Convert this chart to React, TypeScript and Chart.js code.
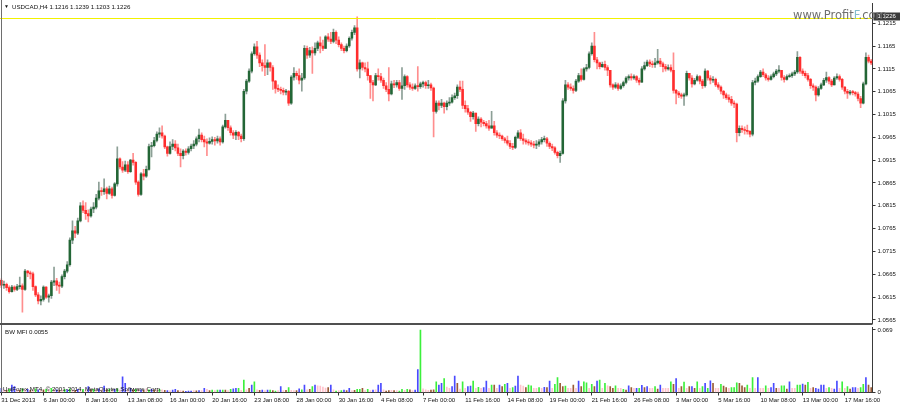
import React, { useEffect, useRef } from 'react';
import { Chart, registerables } from 'chart.js';

Chart.register(...registerables);

// ---------------- data ----------------
const headerText = 'USDCAD,H4  1.1216 1.1239 1.1203 1.1226';
const indicatorTitle = 'BW MFI 0.0055';
const copyrightText = 'UniForex MT4, \u00A9 2001-2014, MetaQuotes Software Corp.';
const watermarkParts = ['www.Profit', 'F', '.com'];

const bidPrice = 1.1226;
const firstOpen = 1.0652;

const closes = [
  1.0641, 1.0643, 1.0636, 1.0627, 1.0637, 1.0632, 1.0638, 1.0640, 1.0632, 1.0672, 1.0668, 1.0666, 1.0638, 1.0620, 1.0607, 1.0610,
  1.0637, 1.0615, 1.0618, 1.0648, 1.0651, 1.0641, 1.0639, 1.0660, 1.0672, 1.0686, 1.0740, 1.0760, 1.0755, 1.0782, 1.0815, 1.0805,
  1.0798, 1.0793, 1.0808, 1.0812, 1.0832, 1.0848, 1.0846, 1.0852, 1.0842, 1.0852, 1.0838, 1.0863, 1.0918, 1.0900, 1.0893, 1.0905,
  1.0890, 1.0915, 1.0910, 1.0867, 1.0840, 1.0885, 1.0880, 1.0895, 1.0945, 1.0947, 1.0958, 1.0972, 1.0975, 1.0968, 1.0944, 1.0930,
  1.0945, 1.0950, 1.0942, 1.0930, 1.0925, 1.0935, 1.0932, 1.0940, 1.0946, 1.0950, 1.0962, 1.0970, 1.0960, 1.0955, 1.0952, 1.0956,
  1.0960, 1.0957, 1.0962, 1.0955, 1.0988, 1.1002, 1.0986, 1.0975, 1.0970, 1.0976, 1.0968, 1.0962, 1.1066, 1.1088, 1.1110, 1.1148,
  1.1163, 1.1145, 1.1128, 1.1122, 1.1118, 1.1128, 1.1118, 1.1088, 1.1072, 1.1070, 1.1068, 1.1064, 1.1066, 1.1040, 1.1097, 1.1105,
  1.1100, 1.1090, 1.1095, 1.1160, 1.1145, 1.1155, 1.1150, 1.1160, 1.1172, 1.1165, 1.1160, 1.1185, 1.1180, 1.1175, 1.1195, 1.1178,
  1.1168, 1.1160, 1.1155, 1.1165, 1.1182, 1.1195, 1.1205, 1.1115, 1.1128, 1.1118, 1.1115, 1.1100, 1.1085, 1.1080, 1.1100, 1.1098,
  1.1090, 1.1078, 1.1070, 1.1060, 1.1082, 1.1080, 1.1085, 1.1072, 1.1078, 1.1098, 1.1080, 1.1075, 1.1072, 1.1078, 1.1076, 1.1082,
  1.1085, 1.1078, 1.1080, 1.1073, 1.1022, 1.1040, 1.1035, 1.1040, 1.1032, 1.1040, 1.1042, 1.1052, 1.1056, 1.1075, 1.1070, 1.1035,
  1.1028, 1.1020, 1.1010, 1.1018, 1.0995, 1.1005, 1.0998, 1.0995, 1.0990, 1.0985, 1.0990, 1.0975, 1.0970, 1.0968, 1.0962, 1.0958,
  1.0952, 1.0945, 1.0943, 1.0965, 1.0975, 1.0962, 1.0958, 1.0955, 1.0953, 1.0950, 1.0948, 1.0950, 1.0955, 1.0960, 1.0962, 1.0952,
  1.0945, 1.0942, 1.0932, 1.0925, 1.0930, 1.1045, 1.1080, 1.1075, 1.1072, 1.1068, 1.1088, 1.1100, 1.1092, 1.1115, 1.1118, 1.1148,
  1.1165, 1.1135, 1.1128, 1.1120, 1.1125, 1.1118, 1.1112, 1.1080, 1.1075, 1.1080, 1.1072, 1.1078, 1.1085, 1.1095, 1.1098, 1.1095,
  1.1098, 1.1090, 1.1086, 1.1115, 1.1122, 1.1130, 1.1126, 1.1124, 1.1128, 1.1132, 1.1126, 1.1120, 1.1115, 1.1118, 1.1112, 1.1068,
  1.1062, 1.1058, 1.1055, 1.1058, 1.1105, 1.1095, 1.1082, 1.1090, 1.1098, 1.1088, 1.1078, 1.1110, 1.1095, 1.1090, 1.1092, 1.1080,
  1.1075, 1.1066, 1.1058, 1.1052, 1.1048, 1.1040, 1.1038, 1.0975, 1.0985, 1.0982, 1.0980, 1.0978, 1.0972, 1.1085, 1.1088, 1.1098,
  1.1108, 1.1102, 1.1095, 1.1092, 1.1098, 1.1104, 1.1110, 1.1112, 1.1096, 1.1092, 1.1098, 1.1100, 1.1104, 1.1108, 1.1140, 1.1110,
  1.1105, 1.1100, 1.1092, 1.1078, 1.1075, 1.1058, 1.1072, 1.1080, 1.1090, 1.1096, 1.1088, 1.1080, 1.1095, 1.1098, 1.1092, 1.1075,
  1.1066, 1.1062, 1.1064, 1.1063, 1.1060, 1.1050, 1.1040, 1.1082, 1.1140, 1.1132, 1.1128,
];

const highs = [
  1.0655, 1.0650, 1.0646, 1.0640, 1.0641, 1.0640, 1.0643, 1.0659, 1.0644, 1.0676, 1.0674, 1.0672, 1.0670, 1.0640, 1.0625, 1.0618,
  1.0640, 1.0638, 1.0622, 1.0652, 1.0681, 1.0656, 1.0648, 1.0664, 1.0676, 1.0693, 1.0745, 1.0782, 1.0770, 1.0788, 1.0822, 1.0826,
  1.0822, 1.0806, 1.0812, 1.0822, 1.0840, 1.0867, 1.0855, 1.0874, 1.0856, 1.0858, 1.0856, 1.0866, 1.0944, 1.0920, 1.0912, 1.0913,
  1.0912, 1.0917, 1.0930, 1.0912, 1.0870, 1.0888, 1.0895, 1.0902, 1.0950, 1.0954, 1.0965, 1.0977, 1.0986, 1.0990, 1.0970, 1.0946,
  1.0955, 1.0960, 1.0958, 1.0950, 1.0940, 1.0938, 1.0940, 1.0945, 1.0950, 1.0958, 1.0966, 1.0983, 1.0975, 1.0968, 1.0962, 1.0964,
  1.0966, 1.0965, 1.0968, 1.0966, 1.0992, 1.1016, 1.1002, 1.0990, 1.0980, 1.0980, 1.0978, 1.0972, 1.1070, 1.1092, 1.1115, 1.1152,
  1.1170, 1.1175, 1.1150, 1.1135, 1.1168, 1.1135, 1.1130, 1.1122, 1.1090, 1.1080, 1.1075, 1.1073, 1.1070, 1.1068, 1.1100, 1.1118,
  1.1110, 1.1115, 1.1105, 1.1166, 1.1165, 1.1162, 1.1163, 1.1172, 1.1176, 1.1185, 1.1178, 1.1188, 1.1192, 1.1195, 1.1202, 1.1198,
  1.1185, 1.1172, 1.1165, 1.1170, 1.1185, 1.1200, 1.1210, 1.1229, 1.1135, 1.1130, 1.1128, 1.1130, 1.1100, 1.1090, 1.1105, 1.1115,
  1.1105, 1.1095, 1.1085, 1.1118, 1.1088, 1.1090, 1.1090, 1.1090, 1.1118, 1.1102, 1.1100, 1.1085, 1.1082, 1.1082, 1.1120, 1.1086,
  1.1088, 1.1088, 1.1090, 1.1084, 1.1075, 1.1045, 1.1045, 1.1048, 1.1042, 1.1045, 1.1052, 1.1058, 1.1062, 1.1080, 1.1088, 1.1088,
  1.1045, 1.1035, 1.1022, 1.1022, 1.1018, 1.1010, 1.1008, 1.1002, 1.1000, 1.1002, 1.1022, 1.1000, 1.0980, 1.0975, 1.0970, 1.0965,
  1.0968, 1.0958, 1.0952, 1.0968, 1.0980, 1.0982, 1.0972, 1.0962, 1.0960, 1.0958, 1.0956, 1.0958, 1.0960, 1.0965, 1.0968, 1.0965,
  1.0955, 1.0950, 1.0945, 1.0935, 1.0935, 1.1050, 1.1090, 1.1085, 1.1082, 1.1078, 1.1092, 1.1105, 1.1115, 1.1118, 1.1125, 1.1152,
  1.1172, 1.1195, 1.1140, 1.1130, 1.1130, 1.1132, 1.1122, 1.1112, 1.1082, 1.1085, 1.1084, 1.1082, 1.1088, 1.1098, 1.1102, 1.1104,
  1.1102, 1.1100, 1.1095, 1.1120, 1.1130, 1.1134, 1.1135, 1.1132, 1.1138, 1.1158, 1.1138, 1.1130, 1.1125, 1.1124, 1.1124, 1.1150,
  1.1070, 1.1066, 1.1062, 1.1062, 1.1110, 1.1105, 1.1100, 1.1094, 1.1102, 1.1100, 1.1092, 1.1115, 1.1112, 1.1100, 1.1098, 1.1095,
  1.1085, 1.1078, 1.1068, 1.1062, 1.1058, 1.1055, 1.1045, 1.1040, 1.0990, 1.0990, 1.0988, 1.0992, 1.0980, 1.1090, 1.1095, 1.1102,
  1.1112, 1.1115, 1.1105, 1.1100, 1.1102, 1.1108, 1.1114, 1.1122, 1.1112, 1.1100, 1.1102, 1.1104, 1.1108, 1.1112, 1.1153, 1.1142,
  1.1115, 1.1110, 1.1105, 1.1094, 1.1082, 1.1078, 1.1076, 1.1084, 1.1094, 1.1108, 1.1098, 1.1092, 1.1098, 1.1104, 1.1102, 1.1094,
  1.1076, 1.1070, 1.1068, 1.1068, 1.1066, 1.1064, 1.1055, 1.1086, 1.1150, 1.1145, 1.1136,
];

const lows = [
  1.0636, 1.0634, 1.0630, 1.0624, 1.0626, 1.0628, 1.0629, 1.0633, 1.0582, 1.0630, 1.0660, 1.0655, 1.0630, 1.0616, 1.0600, 1.0598,
  1.0606, 1.0612, 1.0604, 1.0612, 1.0640, 1.0630, 1.0623, 1.0636, 1.0655, 1.0668, 1.0683, 1.0732, 1.0745, 1.0752, 1.0780, 1.0800,
  1.0785, 1.0780, 1.0790, 1.0800, 1.0808, 1.0828, 1.0838, 1.0840, 1.0830, 1.0840, 1.0832, 1.0836, 1.0858, 1.0896, 1.0888, 1.0890,
  1.0886, 1.0888, 1.0904, 1.0862, 1.0836, 1.0838, 1.0872, 1.0877, 1.0893, 1.0922, 1.0944, 1.0955, 1.0965, 1.0963, 1.0940, 1.0924,
  1.0928, 1.0938, 1.0935, 1.0925, 1.0900, 1.0918, 1.0926, 1.0928, 1.0935, 1.0940, 1.0946, 1.0955, 1.0955, 1.0944, 1.0925, 1.0950,
  1.0950, 1.0948, 1.0952, 1.0948, 1.0952, 1.0985, 1.0980, 1.0970, 1.0962, 1.0960, 1.0960, 1.0955, 1.0958, 1.1060, 1.1085, 1.1106,
  1.1145, 1.1138, 1.1120, 1.1110, 1.1100, 1.1102, 1.1110, 1.1070, 1.1062, 1.1065, 1.1060, 1.1058, 1.1058, 1.1035, 1.1037, 1.1090,
  1.1092, 1.1082, 1.1066, 1.1092, 1.1138, 1.1140, 1.1105, 1.1145, 1.1155, 1.1150, 1.1155, 1.1160, 1.1175, 1.1170, 1.1172, 1.1170,
  1.1163, 1.1155, 1.1150, 1.1152, 1.1162, 1.1178, 1.1190, 1.1110, 1.1095, 1.1112, 1.1108, 1.1090, 1.1050, 1.1045, 1.1078, 1.1090,
  1.1085, 1.1072, 1.1065, 1.1045, 1.1058, 1.1074, 1.1075, 1.1068, 1.1048, 1.1070, 1.1075, 1.1070, 1.1068, 1.1070, 1.1066, 1.1072,
  1.1075, 1.1072, 1.1072, 1.1068, 1.0966, 1.1018, 1.1025, 1.1030, 1.1018, 1.1025, 1.1035, 1.1040, 1.1048, 1.1050, 1.1065, 1.1028,
  1.1020, 1.1015, 1.1000, 1.1005, 1.0978, 1.0990, 1.0988, 1.0990, 1.0985, 1.0980, 1.0985, 1.0970, 1.0965, 1.0962, 1.0958, 1.0953,
  1.0948, 1.0940, 1.0938, 1.0940, 1.0962, 1.0958, 1.0950, 1.0950, 1.0948, 1.0945, 1.0942, 1.0940, 1.0945, 1.0950, 1.0955, 1.0945,
  1.0940, 1.0936, 1.0928, 1.0920, 1.0910, 1.0928, 1.1040, 1.1070, 1.1068, 1.1062, 1.1065, 1.1085, 1.1088, 1.1090, 1.1110, 1.1115,
  1.1145, 1.1130, 1.1115, 1.1115, 1.1118, 1.1112, 1.1100, 1.1075, 1.1070, 1.1072, 1.1068, 1.1070, 1.1075, 1.1082, 1.1090, 1.1090,
  1.1092, 1.1085, 1.1080, 1.1085, 1.1112, 1.1120, 1.1120, 1.1118, 1.1118, 1.1125, 1.1120, 1.1108, 1.1110, 1.1112, 1.1108, 1.1062,
  1.1038, 1.1052, 1.1050, 1.1035, 1.1055, 1.1090, 1.1075, 1.1080, 1.1088, 1.1082, 1.1072, 1.1075, 1.1090, 1.1082, 1.1085, 1.1076,
  1.1070, 1.1060, 1.1050, 1.1048, 1.1042, 1.1035, 1.1030, 1.0955, 1.0968, 1.0976, 1.0972, 1.0972, 1.0966, 1.0968, 1.1080, 1.1085,
  1.1096, 1.1098, 1.1090, 1.1088, 1.1090, 1.1095, 1.1100, 1.1106, 1.1090, 1.1086, 1.1090, 1.1096, 1.1096, 1.1100, 1.1105, 1.1105,
  1.1100, 1.1095, 1.1088, 1.1072, 1.1068, 1.1045, 1.1055, 1.1070, 1.1078, 1.1085, 1.1082, 1.1076, 1.1080, 1.1092, 1.1088, 1.1070,
  1.1060, 1.1050, 1.1058, 1.1058, 1.1055, 1.1045, 1.1030, 1.1038, 1.1080, 1.1128, 1.1124,
];

// Bill Williams Market Facilitation Index
const mfiValues = [
  0.0046, 0.0030, 0.0025, 0.0035, 0.0082, 0.0064, 0.0030, 0.0025, 0.0040, 0.0030, 0.0035, 0.0025, 0.0030, 0.0040, 0.0030, 0.0025,
  0.0030, 0.0035, 0.0025, 0.0046, 0.0030, 0.0030, 0.0025, 0.0030, 0.0035, 0.0030, 0.0040, 0.0030, 0.0025, 0.0035, 0.0030, 0.0035,
  0.0030, 0.0064, 0.0030, 0.0035, 0.0030, 0.0040, 0.0030, 0.0070, 0.0030, 0.0035, 0.0030, 0.0035, 0.0040, 0.0030, 0.0173, 0.0100,
  0.0030, 0.0046, 0.0030, 0.0035, 0.0030, 0.0030, 0.0025, 0.0040, 0.0030, 0.0035, 0.0030, 0.0030, 0.0035, 0.0030, 0.0025, 0.0020,
  0.0020, 0.0027, 0.0035, 0.0020, 0.0020, 0.0015, 0.0013, 0.0016, 0.0016, 0.0020, 0.0018, 0.0020, 0.0020, 0.0046, 0.0035, 0.0020,
  0.0027, 0.0020, 0.0027, 0.0027, 0.0027, 0.0027, 0.0020, 0.0035, 0.0040, 0.0046, 0.0046, 0.0025, 0.0137, 0.0030, 0.0046, 0.0082,
  0.0119, 0.0030, 0.0025, 0.0027, 0.0020, 0.0027, 0.0027, 0.0020, 0.0016, 0.0020, 0.0064, 0.0020, 0.0025, 0.0055, 0.0025, 0.0020,
  0.0020, 0.0040, 0.0030, 0.0082, 0.0030, 0.0035, 0.0064, 0.0082, 0.0075, 0.0070, 0.0060, 0.0050, 0.0055, 0.0082, 0.0030, 0.0016,
  0.0020, 0.0020, 0.0027, 0.0020, 0.0046, 0.0020, 0.0025, 0.0035, 0.0035, 0.0046, 0.0020, 0.0035, 0.0020, 0.0027, 0.0030, 0.0082,
  0.0100, 0.0030, 0.0016, 0.0020, 0.0025, 0.0020, 0.0020, 0.0016, 0.0035, 0.0025, 0.0035, 0.0030, 0.0020, 0.0027, 0.0254, 0.0690,
  0.0040, 0.0030, 0.0025, 0.0027, 0.0030, 0.0119, 0.0082, 0.0100, 0.0155, 0.0060,
  0.0045, 0.0064, 0.0181, 0.0100, 0.0038, 0.0119, 0.0045, 0.0064, 0.0071, 0.0126, 0.0045, 0.0057, 0.0045, 0.0053, 0.0126, 0.0045,
  0.0082, 0.0082, 0.0045, 0.0082, 0.0064, 0.0089, 0.0100, 0.0045, 0.0053, 0.0071, 0.0181, 0.0082, 0.0071, 0.0053, 0.0082, 0.0075,
  0.0045, 0.0045, 0.0053, 0.0045, 0.0057, 0.0053, 0.0126, 0.0045, 0.0089, 0.0166, 0.0100, 0.0064, 0.0071, 0.0045, 0.0045, 0.0082,
  0.0045, 0.0126, 0.0064, 0.0119, 0.0108, 0.0045, 0.0089, 0.0064, 0.0126, 0.0137, 0.0045, 0.0100, 0.0075, 0.0064, 0.0046, 0.0075,
  0.0045, 0.0046, 0.0035, 0.0027, 0.0075, 0.0053, 0.0045, 0.0046, 0.0046, 0.0078, 0.0053, 0.0064, 0.0045, 0.0045, 0.0064, 0.0038,
  0.0082, 0.0045, 0.0045, 0.0045, 0.0119, 0.0089, 0.0155, 0.0045, 0.0064, 0.0115, 0.0045, 0.0064, 0.0064, 0.0046, 0.0119, 0.0045,
  0.0064, 0.0100, 0.0046, 0.0130, 0.0100, 0.0045, 0.0045, 0.0089, 0.0071, 0.0053, 0.0045, 0.0053, 0.0053, 0.0108, 0.0100, 0.0075,
  0.0053, 0.0082, 0.0045, 0.0166, 0.0045, 0.0166, 0.0045, 0.0045, 0.0075, 0.0045, 0.0053, 0.0100, 0.0046, 0.0045, 0.0075, 0.0075,
  0.0038, 0.0119, 0.0045, 0.0045, 0.0082, 0.0082, 0.0093, 0.0082, 0.0111, 0.0045, 0.0053, 0.0046, 0.0038, 0.0082, 0.0082, 0.0045,
  0.0053, 0.0045, 0.0038, 0.0126, 0.0045, 0.0119, 0.0045, 0.0064, 0.0038, 0.0053, 0.0053, 0.0045, 0.0053, 0.0089, 0.0166, 0.0082,
  0.0055,
];

// g = MFI up & volume up, s = both down, b = MFI up & volume down, p = MFI down & volume up
const mfiStates = (
  'bpsgbbpsgpbspgbp' + 'sgpgpbspgbgpsbpg' + 'pbsgpbpbsgpbgpbb' + 'pbsgpbspgbspgpsb' +
  'pbbspsbbbpsbpbps' + 'gpgbgspgbbgpgpsb' + 'gpsbpbgsgpbpsgpp' + 'sbgbpsgbppppsbpg' +
  'pgbsbpsggspgpbpb' + 'bpsspspggpgspbbg' + 'pppssgbbgp' +
  'pbbspgpbbgpgpbbp' + 'gspbsgbpgbbppsgg' + 'ppgpbsbpggssgpps' + 'pbsggpgsbgpgpssg' +
  'ppgsbspbgbsbppgs' + 'bpppgsbpsgpsbsgp' + 'gbgbsppgsspgggss' + 'sgpgpbppgpbbspgg' +
  'sbppggbsgpsbbbbp' + 'gpbbpgpgsbbpggbs' + 's'
).split('');

const timeLabels = [
  '31 Dec 2013', '6 Jan 00:00', '8 Jan 16:00', '13 Jan 08:00', '16 Jan 00:00', '20 Jan 16:00', '23 Jan 08:00',
  '28 Jan 00:00', '30 Jan 16:00', '4 Feb 08:00', '7 Feb 00:00', '11 Feb 16:00', '14 Feb 08:00', '19 Feb 00:00',
  '21 Feb 16:00', '26 Feb 08:00', '3 Mar 00:00', '5 Mar 16:00', '10 Mar 08:00', '13 Mar 00:00', '17 Mar 16:00',
];
const barsPerTimeLabel = 16;

const priceTicks = [1.0565, 1.0615, 1.0665, 1.0715, 1.0765, 1.0815, 1.0865, 1.0915, 1.0965, 1.1015, 1.1065, 1.1115, 1.1165, 1.1215];
const priceAxisMin = 1.05584;
const priceAxisMax = 1.12592;
const mfiTicks = [0, 0.069];
const mfiAxisMax = 0.0723;

// ---------------- style ----------------
const FONT = '"Liberation Sans", Arial, sans-serif';
const BULL_BODY = '#236636';
const BEAR_BODY = '#ff2d2d';
const BULL_WICK = '#8c9f96';
const BEAR_WICK = '#ff8e8e';
const MFI_COLORS: Record<string, string> = { g: '#3cf03c', s: '#9a5b36', b: '#4a4aff', p: '#ffc2cc' };
const AXIS_W = 27.5;

const fitRightAxis = (s: any) => {
  s.width = AXIS_W;
  s.paddingTop = 0;
  s.paddingBottom = 0;
};

const mainDecor = {
  id: 'mainDecor',
  afterDraw(chart: any) {
    const { ctx, chartArea: a, scales } = chart;
    ctx.save();
    // bid line
    const yb = Math.round(scales.y.getPixelForValue(bidPrice)) + 0.5;
    ctx.strokeStyle = '#f2f200';
    ctx.lineWidth = 1;
    ctx.beginPath();
    ctx.moveTo(a.left, yb);
    ctx.lineTo(a.right, yb);
    ctx.stroke();
    // bid label on the axis
    ctx.fillStyle = '#3c3c3c';
    ctx.fillRect(a.right + 1, yb - 6, 27, 8);
    ctx.fillStyle = '#ffffff';
    ctx.font = '6px ' + FONT;
    ctx.textBaseline = 'middle';
    ctx.fillText(bidPrice.toFixed(4), a.right + 5, yb - 2);
    // frame
    ctx.fillStyle = '#6e6e6e';
    ctx.fillRect(1, 0, 1, chart.height);
    ctx.fillStyle = '#505050';
    ctx.fillRect(0, 323, a.right, 2);
    ctx.restore();
  },
};

const mfiDecor = {
  id: 'mfiDecor',
  afterDraw(chart: any) {
    const { ctx, chartArea: a } = chart;
    ctx.save();
    ctx.fillStyle = '#6e6e6e';
    ctx.fillRect(1, 0, 1, a.bottom);
    ctx.restore();
  },
};

export default function App() {
  const mainRef = useRef<HTMLCanvasElement>(null);
  const mfiRef = useRef<HTMLCanvasElement>(null);

  useEffect(() => {
    const labels = closes.map((_, i) => String(i));
    const opens = closes.map((_, i) => (i === 0 ? firstOpen : closes[i - 1]));
    const bull = closes.map((c, i) => c >= opens[i]);

    const main = new Chart(mainRef.current!, {
      type: 'bar',
      data: {
        labels,
        datasets: [
          {
            data: lows.map((l, i) => [l, highs[i]]) as any,
            backgroundColor: bull.map((b) => (b ? BULL_WICK : BEAR_WICK)),
            barThickness: 1,
            grouped: false,
            order: 2,
          },
          {
            data: opens.map((o, i) => [o, closes[i]]) as any,
            backgroundColor: bull.map((b) => (b ? BULL_BODY : BEAR_BODY)),
            barThickness: 1.9,
            minBarLength: 1,
            grouped: false,
            order: 1,
          },
        ],
      },
      options: {
        animation: false,
        responsive: false,
        maintainAspectRatio: false,
        events: [],
        layout: { padding: { left: 0, right: 0, top: 3, bottom: 3 } },
        plugins: { legend: { display: false }, tooltip: { enabled: false } },
        scales: {
          x: { display: false, offset: true },
          y: {
            position: 'right',
            min: priceAxisMin,
            max: priceAxisMax,
            afterBuildTicks: (s: any) => {
              s.ticks = priceTicks.map((v) => ({ value: v }));
            },
            afterFit: fitRightAxis,
            ticks: {
              callback: (v: any) => Number(v).toFixed(4),
              font: { family: FONT, size: 6 },
              color: '#111',
              padding: 2,
            },
            grid: { drawOnChartArea: false, drawTicks: true, tickLength: 3, tickColor: '#333' },
            border: { display: true, color: '#3a3a3a' },
          },
        },
      },
      plugins: [mainDecor],
    });

    const mfi = new Chart(mfiRef.current!, {
      type: 'bar',
      data: {
        labels,
        datasets: [
          {
            data: mfiValues,
            backgroundColor: mfiStates.map((s) => MFI_COLORS[s]),
            barThickness: 1,
          },
        ],
      },
      options: {
        animation: false,
        responsive: false,
        maintainAspectRatio: false,
        events: [],
        layout: { padding: { left: 0, right: 0, top: 1, bottom: 1.3 } },
        plugins: { legend: { display: false }, tooltip: { enabled: false } },
        scales: {
          x: {
            offset: true,
            ticks: {
              autoSkip: false,
              maxRotation: 0,
              minRotation: 0,
              align: 'start',
              padding: 1,
              font: { family: FONT, size: 6 },
              color: '#111',
              callback: (_v: any, i: number) =>
                i % barsPerTimeLabel === 0 ? timeLabels[i / barsPerTimeLabel] ?? '' : '',
            },
            grid: {
              offset: false,
              drawOnChartArea: false,
              drawTicks: true,
              tickLength: 3,
              tickColor: (c: any) => (c.index % barsPerTimeLabel === 0 ? '#333' : 'rgba(0,0,0,0)'),
            },
            border: { display: true, color: '#3a3a3a' },
          },
          y: {
            position: 'right',
            min: 0,
            max: mfiAxisMax,
            afterBuildTicks: (s: any) => {
              s.ticks = mfiTicks.map((v) => ({ value: v }));
            },
            afterFit: fitRightAxis,
            ticks: {
              callback: (v: any) => (Number(v) === 0 ? '0' : Number(v).toFixed(3)),
              font: { family: FONT, size: 6 },
              color: '#111',
              padding: 2,
            },
            grid: { drawOnChartArea: false, drawTicks: true, tickLength: 3, tickColor: '#333' },
            border: { display: true, color: '#3a3a3a' },
          },
        },
      },
      plugins: [mfiDecor],
    });

    return () => {
      main.destroy();
      mfi.destroy();
    };
  }, []);

  const textBase: React.CSSProperties = {
    position: 'absolute',
    fontFamily: FONT,
    fontSize: 6.2,
    lineHeight: 1,
    color: '#111',
    whiteSpace: 'nowrap',
  };

  return (
    <div style={{ position: 'fixed', left: 0, top: 0, width: 900, height: 406, background: '#fff', overflow: 'hidden' }}>
      <canvas ref={mainRef} width={900} height={326} style={{ position: 'absolute', left: 0, top: 0 }} />
      <canvas ref={mfiRef} width={900} height={80} style={{ position: 'absolute', left: 0, top: 326 }} />
      <div style={{ ...textBase, left: 4, top: 4, fontSize: 5 }}>{'\u25BC'}</div>
      <div style={{ ...textBase, left: 12, top: 4 }}>{headerText}</div>
      <div style={{ ...textBase, left: 5, top: 329 }}>{indicatorTitle}</div>
      <div style={{ ...textBase, left: 3, top: 386 }}>{copyrightText}</div>
      <div
        style={{
          position: 'absolute',
          left: 793,
          top: 10,
          fontFamily: '"DejaVu Sans", Verdana, sans-serif',
          fontSize: 11.5,
          lineHeight: 1,
          color: '#707070',
          whiteSpace: 'nowrap',
        }}
      >
        {watermarkParts[0]}
        <span style={{ color: '#86bccb' }}>{watermarkParts[1]}</span>
        {watermarkParts[2]}
      </div>
    </div>
  );
}
